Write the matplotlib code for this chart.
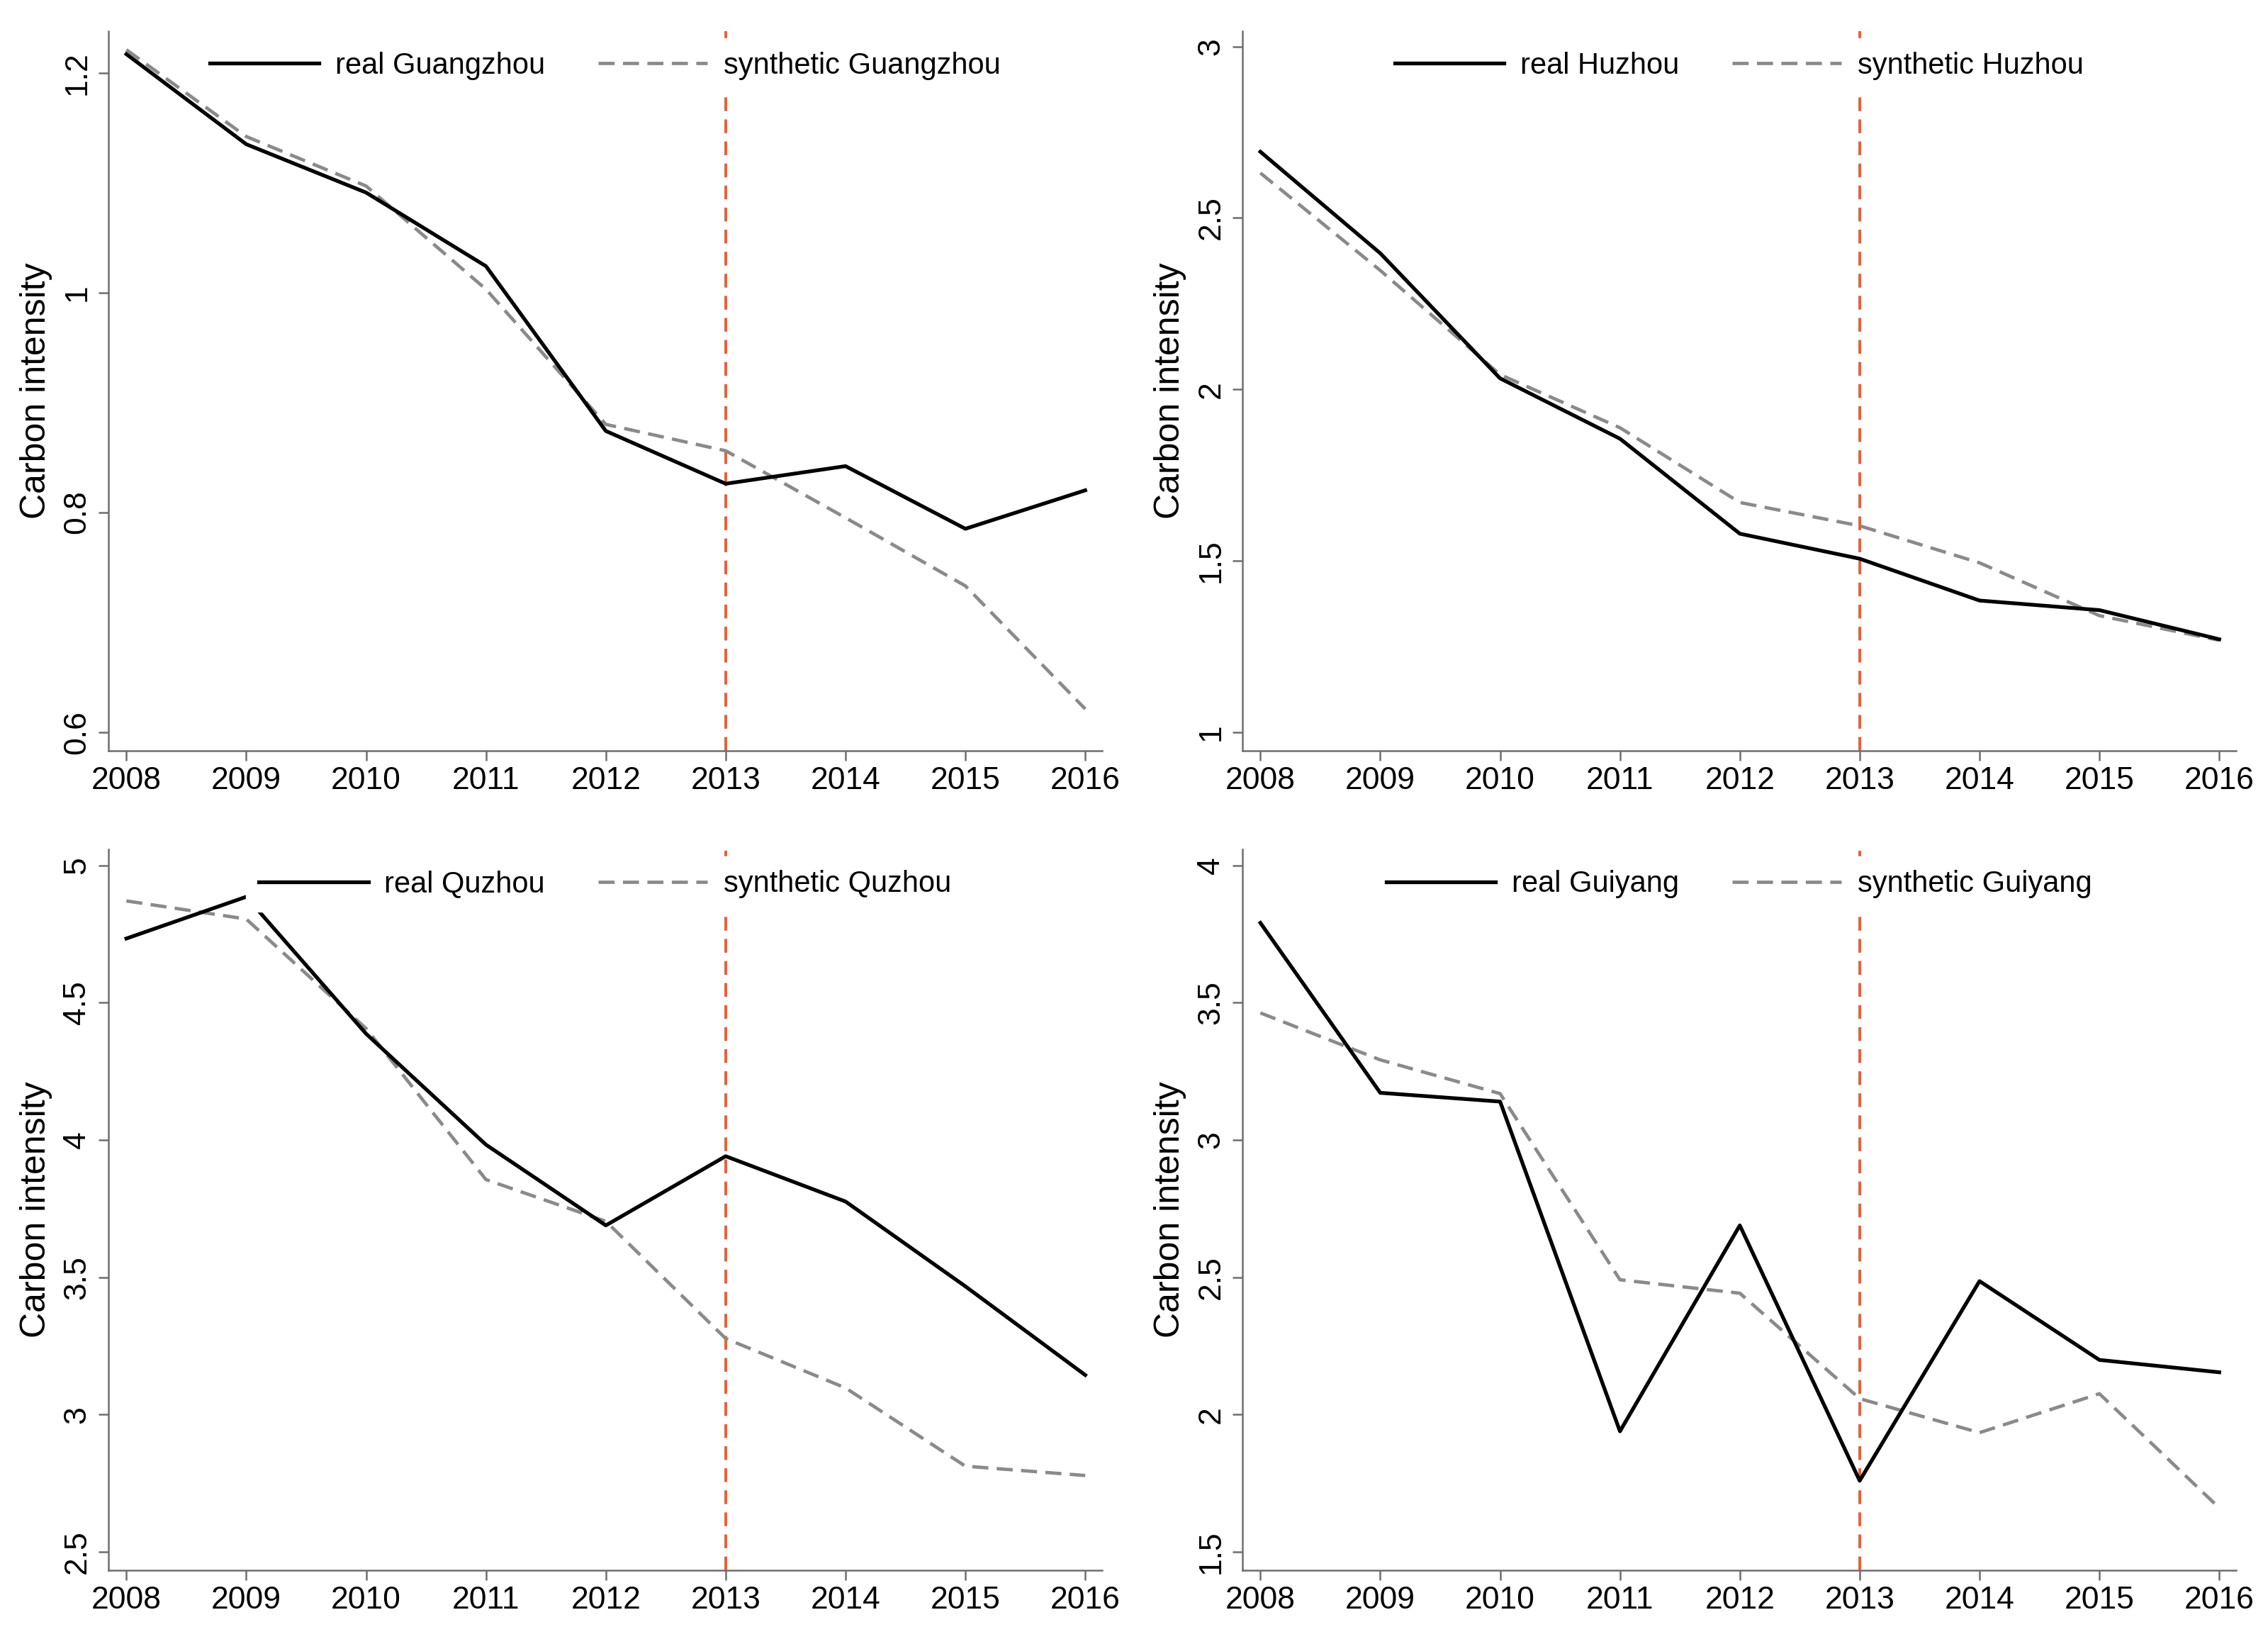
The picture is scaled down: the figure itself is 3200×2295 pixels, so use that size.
import matplotlib
matplotlib.use("Agg")
import matplotlib.pyplot as plt
import numpy as np

plt.rcParams["font.family"] = ["Liberation Sans", "DejaVu Sans"]

# dados
anos = [2008, 2009, 2010, 2011, 2012, 2013, 2014, 2015, 2016]

cidades = ["Guangzhou", "Huzhou", "Quzhou", "Guiyang"]

real_guangzhou = [1.217, 1.135, 1.091, 1.024, 0.874, 0.826, 0.842, 0.785, 0.820]
sint_guangzhou = [1.221, 1.142, 1.097, 1.003, 0.880, 0.856, 0.795, 0.733, 0.621]

real_huzhou = [2.693, 2.397, 2.032, 1.856, 1.579, 1.506, 1.384, 1.356, 1.271]
sint_huzhou = [2.631, 2.347, 2.043, 1.888, 1.670, 1.602, 1.494, 1.340, 1.268]

real_quzhou = [4.734, 4.886, 4.387, 3.983, 3.689, 3.941, 3.776, 3.467, 3.144]
sint_quzhou = [4.871, 4.805, 4.406, 3.856, 3.704, 3.277, 3.097, 2.812, 2.778]

real_guiyang = [3.791, 3.172, 3.140, 1.939, 2.689, 1.759, 2.486, 2.199, 2.154]
sint_guiyang = [3.463, 3.292, 3.169, 2.491, 2.442, 2.058, 1.934, 2.076, 1.660]

yticks_guangzhou = [0.6, 0.8, 1.0, 1.2]
ytick_labels_guangzhou = ["0.6", "0.8", "1", "1.2"]
yticks_huzhou = [1, 1.5, 2, 2.5, 3]
ytick_labels_huzhou = ["1", "1.5", "2", "2.5", "3"]
yticks_quzhou = [2.5, 3, 3.5, 4, 4.5, 5]
ytick_labels_quzhou = ["2.5", "3", "3.5", "4", "4.5", "5"]
yticks_guiyang = [1.5, 2, 2.5, 3, 3.5, 4]
ytick_labels_guiyang = ["1.5", "2", "2.5", "3", "3.5", "4"]

ano_tratamento = 2013

paineis = [
    (real_guangzhou, sint_guangzhou, yticks_guangzhou, ytick_labels_guangzhou, (0.583, 1.238)),
    (real_huzhou, sint_huzhou, yticks_huzhou, ytick_labels_huzhou, (0.946, 3.045)),
    (real_quzhou, sint_quzhou, yticks_quzhou, ytick_labels_quzhou, (2.433, 5.059)),
    (real_guiyang, sint_guiyang, yticks_guiyang, ytick_labels_guiyang, (1.433, 4.059)),
]

# posicoes dos paineis em fracao da figura
posicoes = [
    [0.0478, 0.5386, 0.4381, 0.4423],
    [0.5478, 0.5386, 0.4381, 0.4423],
    [0.0478, 0.0349, 0.4381, 0.4431],
    [0.5478, 0.0349, 0.4381, 0.4431],
]

COR_EIXO = "#6e6e6e"
COR_SINT = "#8a8a8a"
COR_VERMELHO = "#e0623a"

fig = plt.figure(figsize=(32, 22.95), dpi=100)

for cidade, (real, sint, yticks, ylabels, ylim), pos in zip(cidades, paineis, posicoes):
    ax = fig.add_axes(pos)

    ax.axvline(ano_tratamento, color=COR_VERMELHO, lw=2.8, dashes=(5, 3), zorder=1)

    ax.plot(anos, real, color="black", lw=3.8, label=f"real {cidade}", zorder=3)
    ax.plot(anos, sint, color=COR_SINT, lw=3.4, dashes=(4.8, 2.5),
            label=f"synthetic {cidade}", zorder=2)

    ax.set_xlim(2007.85, 2016.14)
    ax.set_ylim(*ylim)
    ax.set_xticks(anos)
    ax.set_xticklabels([str(a) for a in anos])
    ax.set_yticks(yticks)
    ax.set_yticklabels(ylabels, rotation=90, va="center")

    for lado in ["top", "right"]:
        ax.spines[lado].set_visible(False)
    for lado in ["left", "bottom"]:
        ax.spines[lado].set_color(COR_EIXO)
        ax.spines[lado].set_linewidth(1.8)

    ax.tick_params(axis="both", direction="out", length=10, width=1.8,
                   color=COR_EIXO, labelsize=32, labelcolor="black")
    ax.tick_params(axis="y", pad=7)
    ax.tick_params(axis="x", pad=6)

    ax.set_ylabel("Carbon intensity", fontsize=36, color="black", labelpad=10)

    leg = ax.legend(loc="upper center", bbox_to_anchor=(0.5, 1.0), ncol=2,
                    fontsize=30, frameon=True, fancybox=False, framealpha=1,
                    facecolor="white", edgecolor="white", borderaxespad=0.25,
                    borderpad=0.45, handlelength=3.7, handletextpad=0.55,
                    columnspacing=1.8)
    leg.set_zorder(5)

fig.savefig("out.png", dpi=100, facecolor="white")
